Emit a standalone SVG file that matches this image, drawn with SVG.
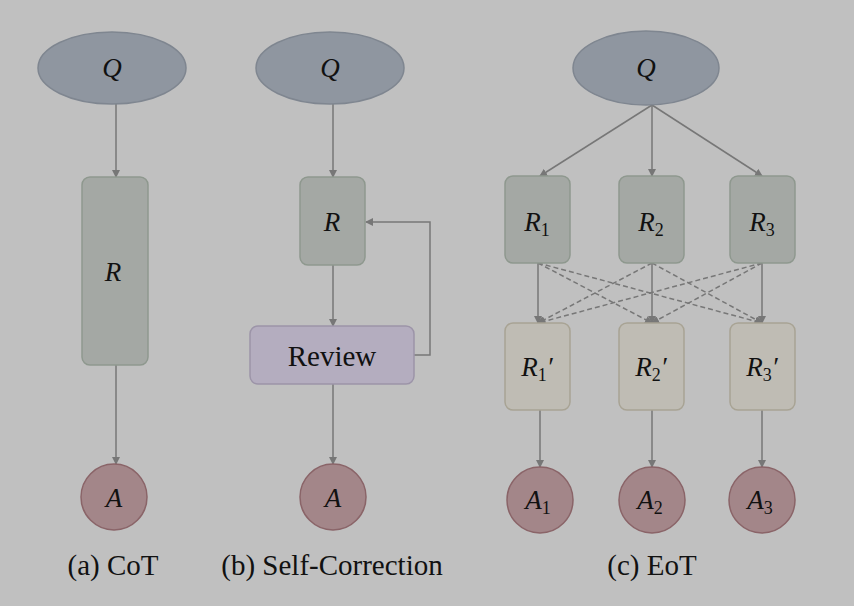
<svg xmlns="http://www.w3.org/2000/svg" width="854" height="606" viewBox="0 0 854 606">
<defs>
<marker id="ah" markerWidth="8" markerHeight="8" refX="7" refY="4" orient="auto" markerUnits="userSpaceOnUse"><path d="M0,0 L8,4 L0,8 z" fill="#777"/></marker>
<style>
.q{fill:#8f96a0;stroke:#7f8690;stroke-width:1.5}
.r{fill:#a4a8a4;stroke:#8e988e;stroke-width:1.5}
.rp{fill:#bfbcb4;stroke:#a8a394;stroke-width:1.5}
.rv{fill:#b4adbf;stroke:#9c94a8;stroke-width:1.5}
.a{fill:#a38689;stroke:#8a6468;stroke-width:1.5}
.m{font-family:"Liberation Serif",serif;font-style:italic;font-size:27px;fill:#111;text-anchor:middle}
.s{font-size:18px}
.t{font-family:"Liberation Serif",serif;font-size:29px;fill:#111;text-anchor:middle}
.c{stroke:#777;stroke-width:1.5;fill:none;marker-end:url(#ah)}
.d{stroke:#777;stroke-width:1.5;fill:none;stroke-dasharray:5,3;marker-end:url(#ah)}
</style>
</defs>
<rect width="854" height="606" fill="#c0c0c0"/>
<g id="connectors">
<path class="c" d="M116,104 V177"/>
<path class="c" d="M116,365 V464"/>
<path class="c" d="M333,104 V177"/>
<path class="c" d="M333,265 V326"/>
<path class="c" d="M333,384 V464"/>
<path class="c" d="M414,355 H430 V222 H366"/>
<path class="c" d="M652,105 L540,176"/>
<path class="c" d="M652,105 V176"/>
<path class="c" d="M652,105 L762,176"/>
<path class="c" d="M538,263 V323"/>
<path class="c" d="M652,263 V323"/>
<path class="c" d="M762,263 V323"/>
<path class="d" d="M538,263 L652,323"/>
<path class="d" d="M538,263 L762,323"/>
<path class="d" d="M652,263 L538,323"/>
<path class="d" d="M652,263 L762,323"/>
<path class="d" d="M762,263 L538,323"/>
<path class="d" d="M762,263 L652,323"/>
<path class="c" d="M540,410 V467"/>
<path class="c" d="M652,410 V467"/>
<path class="c" d="M762,410 V467"/>
</g>
<g id="q1"><ellipse class="q" cx="112" cy="68" rx="74" ry="36"/><text class="m" x="112" y="77">Q</text></g>
<g id="r1"><rect class="r" x="82" y="177" width="66" height="188" rx="8"/><text class="m" x="113" y="281">R</text></g>
<g id="a1"><circle class="a" cx="114" cy="497" r="33"/><text class="m" x="114" y="507">A</text></g>
<g id="q2"><ellipse class="q" cx="330" cy="68" rx="74" ry="36"/><text class="m" x="330" y="77">Q</text></g>
<g id="r2"><rect class="r" x="300" y="177" width="65" height="88" rx="8"/><text class="m" x="332" y="231">R</text></g>
<g id="review"><rect class="rv" x="250" y="326" width="164" height="58" rx="8"/><text class="t" x="332" y="366">Review</text></g>
<g id="a2"><circle class="a" cx="333" cy="497" r="33"/><text class="m" x="333" y="507">A</text></g>
<g id="q3"><ellipse class="q" cx="646" cy="68" rx="73" ry="37"/><text class="m" x="646" y="77">Q</text></g>
<g id="R1"><rect class="r" x="505" y="176" width="65" height="87" rx="8"/><text class="m" x="537" y="231">R<tspan class="s" font-style="normal" dy="5">1</tspan></text></g>
<g id="R2"><rect class="r" x="619" y="176" width="65" height="87" rx="8"/><text class="m" x="651" y="231">R<tspan class="s" font-style="normal" dy="5">2</tspan></text></g>
<g id="R3"><rect class="r" x="730" y="176" width="65" height="87" rx="8"/><text class="m" x="762" y="231">R<tspan class="s" font-style="normal" dy="5">3</tspan></text></g>
<g id="R1p"><rect class="rp" x="505" y="323" width="65" height="87" rx="8"/><text class="m" x="537" y="376">R<tspan class="s" font-style="normal" dy="5">1</tspan><tspan dy="-5">′</tspan></text></g>
<g id="R2p"><rect class="rp" x="619" y="323" width="65" height="87" rx="8"/><text class="m" x="651" y="376">R<tspan class="s" font-style="normal" dy="5">2</tspan><tspan dy="-5">′</tspan></text></g>
<g id="R3p"><rect class="rp" x="730" y="323" width="65" height="87" rx="8"/><text class="m" x="762" y="376">R<tspan class="s" font-style="normal" dy="5">3</tspan><tspan dy="-5">′</tspan></text></g>
<g id="A1"><circle class="a" cx="540" cy="500" r="33"/><text class="m" x="538" y="509">A<tspan class="s" font-style="normal" dy="5">1</tspan></text></g>
<g id="A2"><circle class="a" cx="652" cy="500" r="33"/><text class="m" x="650" y="509">A<tspan class="s" font-style="normal" dy="5">2</tspan></text></g>
<g id="A3"><circle class="a" cx="762" cy="500" r="33"/><text class="m" x="760" y="509">A<tspan class="s" font-style="normal" dy="5">3</tspan></text></g>
<g id="labels">
<text class="t" x="113" y="575">(a) CoT</text>
<text class="t" x="332" y="575">(b) Self-Correction</text>
<text class="t" x="652" y="575">(c) EoT</text>
</g>
</svg>
